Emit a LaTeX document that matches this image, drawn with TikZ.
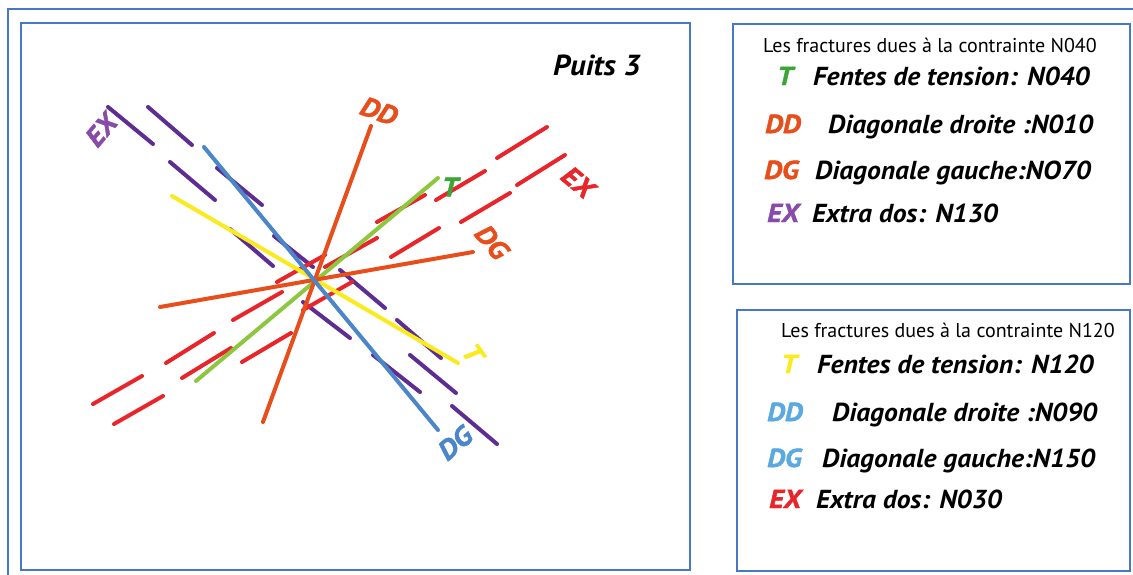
\documentclass[tikz,border=0pt]{standalone}
\usepackage{fontspec}
\setmainfont{PT Sans}
\newfontfamily\legfont[FakeStretch=1.06]{PT Sans}
\newfontfamily\heavyfont[FakeBold=1.6, FakeStretch=1.1]{PT Sans}
\definecolor{bordercol}{RGB}{70,120,196}
\definecolor{purpline}{RGB}{94,45,145}
\definecolor{purplbl}{RGB}{137,75,168}
\definecolor{redline}{RGB}{232,37,42}
\definecolor{orangeline}{RGB}{232,78,27}
\definecolor{greenline}{RGB}{141,198,63}
\definecolor{greenlbl}{RGB}{61,165,53}
\definecolor{yellowline}{RGB}{250,234,30}
\definecolor{blueline}{RGB}{74,134,200}
\definecolor{lightblue}{RGB}{90,169,224}
\tikzset{
  frame/.style={draw=bordercol, line width=1.8pt},
  frac/.style={line width=4pt, line cap=round},
  chartlbl/.style={font=\heavyfont\bfseries\itshape\fontsize{27}{27}\selectfont, inner sep=0pt},
  keylbl/.style={font=\heavyfont\bfseries\itshape\fontsize{26}{26}\selectfont, inner sep=0pt, anchor=base west},
  legtxt/.style={font=\legfont\bfseries\itshape\fontsize{26}{26}\selectfont, inner sep=0pt, anchor=base west},
  legtitle/.style={font=\fontsize{20}{20}\selectfont, inner sep=0pt, anchor=base west},
}
\begin{document}
\begin{tikzpicture}[x=1pt,y=-1pt]
\useasboundingbox (0,0) rectangle (1133,574);
% frames
\draw[frame] (8,585) -- (8,9) -- (1145,9);
\draw[frame] (21,23) rectangle (690,570);
\draw[frame] (733,24) rectangle (1130,284);
\draw[frame] (737,310) rectangle (1130,571);
% purple dashed fractures (EX N130)
\foreach \a/\b/\c/\d in {108/107/153/144, 148/107/192/145, 170/162/215/200, 217/168/262/205,
  230/229/273/266, 274/236/313/267, 340/270/385/308, 303/302/350/338, 397/320/441/358,
  373/355/420/392, 410/355/456/393, 452/406/497/444}
  {\draw[frac, purpline] (\a,\b) -- (\c,\d);}
% red dashed fractures (EX N030)
\foreach \a/\b/\c/\d in {93/404/142/376, 114/424/163/396, 166/363/214/333, 182/378/231/348,
  233/320/282/292, 242/362/291/333, 277/282/325/255, 303/310/352/282, 325/267/377/238,
  377/222/425/195, 391/257/439/228, 436/200/485/171, 461/222/510/193, 497/158/547/127,
  517/185/565/155}
  {\draw[frac, redline] (\a,\b) -- (\c,\d);}
% continuous fractures
\draw[frac, yellowline] (172,196) -- (458,363);
\draw[frac, greenline] (196,381) -- (438,178);
\draw[frac, orangeline] (160,307) -- (473,252);
\draw[frac, orangeline] (371,126) -- (263,422);
\draw[frac, blueline] (204,147) -- (438,430);
% chart labels
\node[chartlbl, text=purplbl, rotate=50] (exP) at (101,130) {EX};
\node[chartlbl, text=orangeline, rotate=-20] (ddO) at (379,111) {DD};
\node[chartlbl, text=greenlbl] (tG) at (450,187) {T};
\node[chartlbl, text=redline, rotate=-40] (exR) at (578,182) {EX};
\node[chartlbl, text=orangeline, rotate=-50] (dgO) at (492,242) {DG};
\node[chartlbl, text=yellowline, rotate=-55] (tY) at (473,353) {T};
\node[chartlbl, text=blueline, rotate=40] (dgB) at (455,443) {DG};
\node[font=\legfont\bfseries\itshape\fontsize{29}{29}\selectfont, inner sep=0pt, anchor=base west] (puits) at (553,75) {Puits 3};
% legend 1
\node[legtitle] (t1) at (763,52) {Les fractures dues à la contrainte N040};
\node[keylbl, text=greenlbl] (k1a) at (777,85) {T};
\node[legtxt] (l1a) at (813,85) {Fentes de tension: N040};
\node[keylbl, text=orangeline] (k1b) at (765,133) {DD};
\node[legtxt] (l1b) at (828,133) {Diagonale droite :N010};
\node[keylbl, text=orangeline] (k1c) at (764,179) {DG};
\node[legtxt] (l1c) at (815,179) {Diagonale gauche:NO70};
\node[keylbl, text=purplbl] (k1d) at (767,222) {EX};
\node[legtxt] (l1d) at (812,222) {Extra dos: N130};
% legend 2
\node[legtitle] (t2) at (781,337) {Les fractures dues à la contrainte N120};
\node[keylbl, text=yellowline] (k2a) at (781,373) {T};
\node[legtxt] (l2a) at (817,373) {Fentes de tension: N120};
\node[keylbl, text=lightblue] (k2b) at (767,421) {DD};
\node[legtxt] (l2b) at (832,421) {Diagonale droite :N090};
\node[keylbl, text=lightblue] (k2c) at (767,467) {DG};
\node[legtxt] (l2c) at (822,467) {Diagonale gauche:N150};
\node[keylbl, text=redline] (k2d) at (769,508) {EX};
\node[legtxt] (l2d) at (816,508) {Extra dos: N030};
\end{tikzpicture}
\end{document}
